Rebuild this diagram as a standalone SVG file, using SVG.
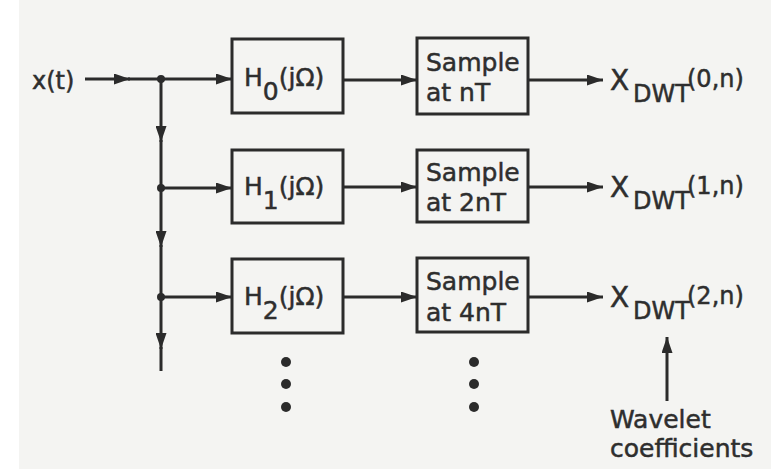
<svg xmlns="http://www.w3.org/2000/svg" width="771" height="469" viewBox="0 0 771 469">
  <defs>
    <style>
      .box { fill: none; stroke: #2b2b2b; stroke-width: 3; }
      .wire { stroke: #2b2b2b; stroke-width: 3; fill: none; }
      .arr { marker-end: url(#head); }
      .dot { fill: #2b2b2b; }
      text { font-family: "DejaVu Sans", "Liberation Sans", sans-serif; fill: #2e2e2e; stroke: #2e2e2e; stroke-width: 0.5; }
      .lbl { font-size: 25px; }
      .in { font-size: 24px; }
      .out { font-size: 24px; }
    </style>
    <marker id="head" viewBox="0 0 16 11" refX="16" refY="5.5" markerWidth="16" markerHeight="11" markerUnits="userSpaceOnUse" orient="auto">
      <path d="M0,0 L16,5.5 L0,11 z" fill="#2b2b2b"/>
    </marker>
  </defs>

  <!-- paper -->
  <rect x="0" y="0" width="771" height="469" fill="#ffffff"/>
  <rect x="19" y="0" width="752" height="469" fill="#f4f4f2"/>

  <!-- input label -->
  <g id="input">
    <text class="in" x="32" y="89">x(t)</text>
  </g>

  <!-- connectors -->
  <g id="connectors">
    <!-- input line and splitter trunk -->
    <line class="wire arr" x1="85" y1="79" x2="130" y2="79"/>
    <line class="wire arr" x1="128" y1="79" x2="232" y2="79"/>
    <line class="wire arr" x1="161" y1="79" x2="161" y2="142"/>
    <line class="wire" x1="161" y1="140" x2="161" y2="188"/>
    <line class="wire arr" x1="161" y1="188" x2="161" y2="247"/>
    <line class="wire" x1="161" y1="245" x2="161" y2="297"/>
    <line class="wire arr" x1="161" y1="297" x2="161" y2="349"/>
    <line class="wire" x1="161" y1="347" x2="161" y2="371"/>
    <circle class="dot" cx="161" cy="79" r="4"/>
    <circle class="dot" cx="161" cy="188" r="4"/>
    <circle class="dot" cx="161" cy="297" r="4"/>
    <!-- branches into filters -->
    <line class="wire arr" x1="161" y1="188" x2="232" y2="188"/>
    <line class="wire arr" x1="161" y1="297" x2="232" y2="297"/>
    <!-- filter to sampler -->
    <line class="wire arr" x1="343" y1="80" x2="417" y2="80"/>
    <line class="wire arr" x1="343" y1="187" x2="417" y2="187"/>
    <line class="wire arr" x1="343" y1="297" x2="417" y2="297"/>
    <!-- sampler outputs -->
    <line class="wire arr" x1="528" y1="80" x2="603" y2="80"/>
    <line class="wire arr" x1="528" y1="187" x2="603" y2="187"/>
    <line class="wire arr" x1="528" y1="297" x2="603" y2="297"/>
    <!-- pointer to the coefficients -->
    <line class="wire arr" x1="667" y1="401" x2="667" y2="337"/>
  </g>

  <!-- filters -->
  <g id="h0">
    <rect class="box" x="232" y="39" width="111" height="74"/>
    <text class="lbl" x="244" y="86">H<tspan dy="14">0</tspan><tspan dy="-14">(jΩ)</tspan></text>
  </g>
  <g id="h1">
    <rect class="box" x="232" y="150" width="111" height="73"/>
    <text class="lbl" x="244" y="195">H<tspan dy="14">1</tspan><tspan dy="-14">(jΩ)</tspan></text>
  </g>
  <g id="h2">
    <rect class="box" x="232" y="259" width="111" height="74"/>
    <text class="lbl" x="244" y="305">H<tspan dy="14">2</tspan><tspan dy="-14">(jΩ)</tspan></text>
  </g>

  <!-- samplers -->
  <g id="s0">
    <rect class="box" x="417" y="38" width="111" height="76"/>
    <text class="lbl" x="426" y="71">Sample</text>
    <text class="lbl" x="426" y="101">at nT</text>
  </g>
  <g id="s1">
    <rect class="box" x="417" y="150" width="111" height="72"/>
    <text class="lbl" x="426" y="181">Sample</text>
    <text class="lbl" x="426" y="211">at 2nT</text>
  </g>
  <g id="s2">
    <rect class="box" x="417" y="258" width="111" height="74"/>
    <text class="lbl" x="426" y="290">Sample</text>
    <text class="lbl" x="426" y="321">at 4nT</text>
  </g>

  <!-- outputs -->
  <g id="out0">
    <text class="out" x="610" y="90"><tspan font-size="28">X</tspan><tspan x="633" y="102">DWT</tspan><tspan x="687" y="87">(0,n)</tspan></text>
  </g>
  <g id="out1">
    <text class="out" x="610" y="197"><tspan font-size="28">X</tspan><tspan x="633" y="209">DWT</tspan><tspan x="687" y="194">(1,n)</tspan></text>
  </g>
  <g id="out2">
    <text class="out" x="610" y="307"><tspan font-size="28">X</tspan><tspan x="633" y="319">DWT</tspan><tspan x="687" y="304">(2,n)</tspan></text>
  </g>

  <!-- continuation dots -->
  <g id="more">
    <circle class="dot" cx="286" cy="362" r="5"/>
    <circle class="dot" cx="286" cy="384" r="5"/>
    <circle class="dot" cx="286" cy="407" r="5"/>
    <circle class="dot" cx="474" cy="362" r="5"/>
    <circle class="dot" cx="474" cy="384" r="5"/>
    <circle class="dot" cx="474" cy="407" r="5"/>
  </g>

  <!-- caption -->
  <g id="caption">
    <text class="lbl" x="610" y="428">Wavelet</text>
    <text class="lbl" x="610" y="457">coefficients</text>
  </g>
</svg>
